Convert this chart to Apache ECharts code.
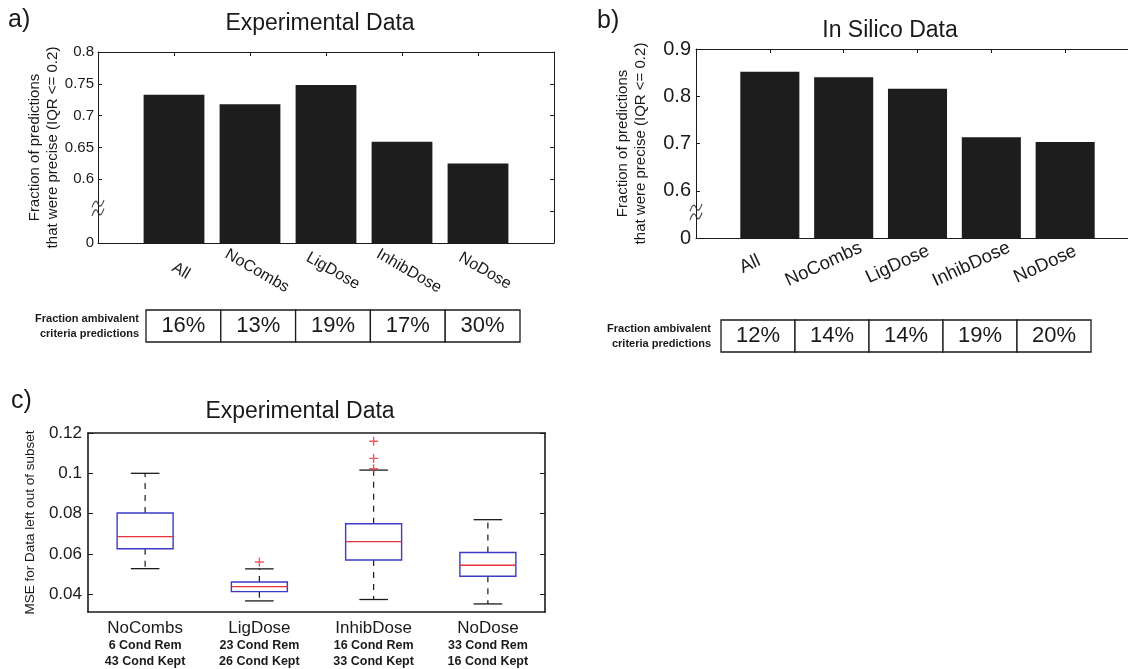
<!DOCTYPE html>
<html>
<head>
<meta charset="utf-8">
<script src="https://cdn.jsdelivr.net/npm/echarts@6/dist/echarts.min.js"></script>
<style>
  html, body { margin: 0; padding: 0; background: #ffffff; }
  #chart { width: 1128px; height: 669px; }
</style>
</head>
<body>
<div id="chart"></div>
<script>
// ---- Subsets compared in panels a and b ----
const subsets = ['All', 'NoCombs', 'LigDose', 'InhibDose', 'NoDose'];

// a) Experimental data: fraction of precise predictions and ambivalent fraction (%)
const expPrecise = [0.733, 0.718, 0.748, 0.659, 0.625];
const expAmbivalent = [16, 13, 19, 17, 30];
const expTickValues = [0.5, 0.6, 0.65, 0.7, 0.75, 0.8];
const expTickLabels = ['0', '0.6', '0.65', '0.7', '0.75', '0.8'];
const expRightTicks = [0.55, 0.6, 0.65, 0.7, 0.75];

// b) In silico data
const silPrecise = [0.852, 0.840, 0.816, 0.713, 0.703];
const silAmbivalent = [12, 14, 14, 19, 20];
const silTickValues = [0.5, 0.6, 0.7, 0.8, 0.9];
const silTickLabels = ['0', '0.6', '0.7', '0.8', '0.9'];
const silRightTicks = [0.6, 0.7, 0.8];

// Value where the broken y axis is marked
const axisBreakAt = 0.555;
const rowLabel = 'Fraction ambivalent\ncriteria predictions';

// c) MSE for data left out of each subset (box plot statistics)
const boxCategories = ['NoCombs', 'LigDose', 'InhibDose', 'NoDose'];
const condRemoved = [6, 23, 16, 33];
const condKept = [43, 26, 33, 16];
const boxLow = [0.0527, 0.0367, 0.0374, 0.0352];
const boxQ1 = [0.0626, 0.0413, 0.0570, 0.0489];
const boxMedian = [0.0686, 0.0438, 0.0661, 0.0544];
const boxQ3 = [0.0803, 0.0461, 0.0750, 0.0607];
const boxHigh = [0.1000, 0.0526, 0.1016, 0.0770];
const outlierCategory = [1, 2, 2, 2];
const outlierValue = [0.0560, 0.1159, 0.1074, 0.1023];
const mseTicks = [0.04, 0.06, 0.08, 0.1, 0.12];

// ---- Styling ----
const FONT = "'Liberation Sans', Arial, Helvetica, sans-serif";
const INK = '#1a1a1a';
const BAR = '#1d1d1d';
const BOX_BLUE = '#3b3bc8';
const MEDIAN_RED = '#e8323a';
const breakSymbol = 'path://M0,7 C2,1 4,1 5,4 C6,7 8,7 10,1 M0,14 C2,8 4,8 5,11 C6,14 8,14 10,8';
const plusSymbol = 'path://M5,0 L5,10 M0,5 L10,5';

const padCats = c => [''].concat(c, ['']);
const tickFormatter = (values, labels) => v => {
  const k = values.findIndex(t => Math.abs(t - v) < 1e-9);
  return k < 0 ? '' : labels[k];
};

const chart = echarts.init(document.getElementById('chart'), null, { renderer: 'canvas' });

function edgeLine(width) {
  return { show: true, onZero: false, lineStyle: { color: INK, width: width } };
}

// Category axes for a bar panel: bottom (labelled) and top (ticks only)
function barXAxes(grid, labelCfg) {
  return [
    {
      gridIndex: grid, type: 'category', data: padCats(subsets), boundaryGap: false,
      position: 'bottom', axisLine: edgeLine(1), axisTick: { show: false },
      axisLabel: Object.assign({ interval: 0, fontFamily: FONT, color: INK }, labelCfg)
    },
    {
      gridIndex: grid, type: 'category', data: padCats(subsets), boundaryGap: false,
      position: 'top', axisLine: edgeLine(1),
      axisTick: { show: true, inside: true, length: 4, interval: 0, lineStyle: { color: INK } },
      axisLabel: { show: false }
    }
  ];
}

function barYAxes(grid, min, max, tickValues, tickLabels, rightTicks, labelSize, labelMargin, nameGap) {
  return [
    {
      gridIndex: grid, type: 'value', min: min, max: max, position: 'left',
      name: 'Fraction of predictions\nthat were precise (IQR <= 0.2)',
      nameLocation: 'middle', nameGap: nameGap, nameMoveOverlap: false,
      nameTextStyle: { fontSize: 15, lineHeight: 18, fontFamily: FONT, color: INK },
      axisLine: edgeLine(1),
      axisTick: { show: true, inside: true, length: 4, customValues: tickValues, lineStyle: { color: INK } },
      axisLabel: {
        customValues: tickValues, formatter: tickFormatter(tickValues, tickLabels),
        fontSize: labelSize, fontFamily: FONT, color: INK, margin: labelMargin
      },
      splitLine: { show: false }
    },
    {
      gridIndex: grid, type: 'value', min: min, max: max, position: 'right',
      axisLine: edgeLine(1),
      axisTick: { show: true, inside: true, length: 4, customValues: rightTicks, lineStyle: { color: INK } },
      axisLabel: { show: false },
      splitLine: { show: false }
    }
  ];
}

function tableAxes(grid, labelMargin) {
  return {
    x: { gridIndex: grid, type: 'category', data: subsets, show: false },
    y: {
      gridIndex: grid, type: 'category', data: [rowLabel],
      axisLine: { show: false }, axisTick: { show: false },
      axisLabel: {
        interval: 0, align: 'right', margin: labelMargin, fontSize: 11, fontWeight: 'bold',
        lineHeight: 15, fontFamily: FONT, color: INK
      }
    }
  };
}

// One row of bordered cells, one cell per subset
function tableSeries(xIdx, yIdx, values) {
  return {
    type: 'custom', xAxisIndex: xIdx, yAxisIndex: yIdx, silent: true,
    data: values.map((v, i) => [i, 0, v]),
    renderItem: (params, api) => {
      const c = api.coord([api.value(0), 0]);
      const s = api.size([1, 1]);
      return {
        type: 'group',
        children: [
          {
            type: 'rect',
            shape: { x: c[0] - s[0] / 2, y: c[1] - s[1] / 2, width: s[0], height: s[1] },
            style: { fill: '#ffffff', stroke: INK, lineWidth: 1.3 }
          },
          {
            type: 'text', x: c[0], y: c[1],
            style: {
              text: api.value(2) + '%', align: 'center', verticalAlign: 'middle',
              fontSize: 22, fontFamily: FONT, fill: INK
            }
          }
        ]
      };
    }
  };
}

function breakMarker(xIdx, yIdx) {
  return {
    type: 'scatter', xAxisIndex: xIdx, yAxisIndex: yIdx, silent: true, clip: false, z: 10,
    data: [[0, axisBreakAt]], symbol: breakSymbol, symbolSize: [12, 16],
    itemStyle: { color: 'none', borderColor: INK, borderWidth: 1.2 }
  };
}

const aX = barXAxes(0, { rotate: -30, align: 'center', verticalAlign: 'middle', padding: [0, 0, 0, 16], margin: 24, fontSize: 16 });
const bX = barXAxes(2, { rotate: 25, align: 'center', verticalAlign: 'middle', padding: [0, 44, 0, 0], margin: 17, fontSize: 18.5 });
const aY = barYAxes(0, 0.5, 0.8, expTickValues, expTickLabels, expRightTicks, 15, 4, 36);
const bY = barYAxes(2, 0.5, 0.9, silTickValues, silTickLabels, silRightTicks, 20, 5, 46);
const aT = tableAxes(1, 7);
const bT = tableAxes(3, 10);

const cX = [
  {
    gridIndex: 4, type: 'category', data: boxCategories, position: 'bottom',
    axisLine: edgeLine(1.6), axisTick: { show: false },
    axisLabel: {
      interval: 0, margin: 7, color: INK, fontFamily: FONT,
      formatter: (v, i) => '{n|' + v + '}\n{s|' + condRemoved[i] + ' Cond Rem}\n{s|' + condKept[i] + ' Cond Kept}',
      rich: {
        n: { fontSize: 17, lineHeight: 19, fontFamily: FONT, color: INK },
        s: { fontSize: 12.5, lineHeight: 16, fontWeight: 'bold', fontFamily: FONT, color: INK }
      }
    }
  },
  {
    gridIndex: 4, type: 'category', data: boxCategories, position: 'top',
    axisLine: edgeLine(1.6), axisTick: { show: false }, axisLabel: { show: false }
  }
];
const cY = [
  {
    gridIndex: 4, type: 'value', min: 0.0312, max: 0.12, position: 'left',
    name: 'MSE for Data left out of subset', nameLocation: 'middle', nameGap: 51, nameMoveOverlap: false,
    nameTextStyle: { fontSize: 13.5, fontFamily: FONT, color: INK },
    axisLine: edgeLine(1.6),
    axisTick: { show: true, inside: true, length: 5, customValues: mseTicks, lineStyle: { color: INK } },
    axisLabel: { customValues: mseTicks, fontSize: 17, fontFamily: FONT, color: INK, margin: 6 },
    splitLine: { show: false }
  },
  {
    gridIndex: 4, type: 'value', min: 0.0312, max: 0.12, position: 'right',
    axisLine: edgeLine(1.6),
    axisTick: { show: true, inside: true, length: 5, customValues: mseTicks, lineStyle: { color: INK } },
    axisLabel: { show: false }, splitLine: { show: false }
  }
];

// Box-and-whisker glyph: dashed whiskers, caps, blue box, red median
const boxSeries = {
  type: 'custom', xAxisIndex: 6, yAxisIndex: 6, silent: true,
  data: boxCategories.map((_, i) => [i, boxLow[i], boxQ1[i], boxMedian[i], boxQ3[i], boxHigh[i]]),
  encode: { x: 0, y: [1, 2, 3, 4, 5] },
  renderItem: (params, api) => {
    const i = api.value(0);
    const x = api.coord([i, api.value(3)])[0];
    const band = api.size([1, 0])[0];
    const half = band * 0.245;
    const cap = band * 0.125;
    const y = k => api.coord([i, api.value(k)])[1];
    const yLow = y(1), yQ1 = y(2), yMed = y(3), yQ3 = y(4), yHigh = y(5);
    const whisker = { stroke: INK, lineWidth: 1.2, lineDash: [6, 6] };
    const solid = { stroke: INK, lineWidth: 1.3 };
    return {
      type: 'group',
      children: [
        { type: 'line', shape: { x1: x, y1: yQ3, x2: x, y2: yHigh }, style: whisker },
        { type: 'line', shape: { x1: x, y1: yQ1, x2: x, y2: yLow }, style: whisker },
        { type: 'line', shape: { x1: x - cap, y1: yHigh, x2: x + cap, y2: yHigh }, style: solid },
        { type: 'line', shape: { x1: x - cap, y1: yLow, x2: x + cap, y2: yLow }, style: solid },
        {
          type: 'rect', shape: { x: x - half, y: yQ3, width: half * 2, height: yQ1 - yQ3 },
          style: { fill: 'none', stroke: BOX_BLUE, lineWidth: 1.4 }
        },
        { type: 'line', shape: { x1: x - half, y1: yMed, x2: x + half, y2: yMed }, style: { stroke: MEDIAN_RED, lineWidth: 1.4 } }
      ]
    };
  }
};

const outlierSeries = {
  type: 'scatter', xAxisIndex: 6, yAxisIndex: 6, silent: true, z: 5,
  data: outlierValue.map((v, k) => [outlierCategory[k], v]),
  symbol: plusSymbol, symbolSize: 9,
  itemStyle: { color: 'none', borderColor: MEDIAN_RED, borderWidth: 1.4 }
};

const titleStyle = { fontSize: 23, fontWeight: 'normal', fontFamily: FONT, color: INK };
const tagStyle = { fontSize: 25, fontWeight: 'normal', fontFamily: FONT, color: INK };

const option = {
  backgroundColor: '#ffffff',
  animation: false,
  title: [
    { text: 'a)', left: 8, top: 8, padding: 0, textStyle: tagStyle },
    { text: 'Experimental Data', left: 320, top: 12, padding: 0, textAlign: 'center', textStyle: titleStyle },
    { text: 'b)', left: 597, top: 9, padding: 0, textStyle: tagStyle },
    { text: 'In Silico Data', left: 890, top: 19, padding: 0, textAlign: 'center', textStyle: titleStyle },
    { text: 'c)', left: 11, top: 389, padding: 0, textStyle: tagStyle },
    { text: 'Experimental Data', left: 300, top: 400, padding: 0, textAlign: 'center', textStyle: titleStyle }
  ],
  grid: [
    { left: 98, right: 574, top: 52, bottom: 426, outerBoundsMode: 'none', containLabel: false },
    { left: 146, right: 608, top: 310, bottom: 327, outerBoundsMode: 'none', containLabel: false },
    { left: 696, right: -11, top: 49, bottom: 431, outerBoundsMode: 'none', containLabel: false },
    { left: 721, right: 37, top: 320, bottom: 317, outerBoundsMode: 'none', containLabel: false },
    { left: 88, right: 583, top: 433, bottom: 57, outerBoundsMode: 'none', containLabel: false }
  ],
  xAxis: [aX[0], aX[1], aT.x, bX[0], bX[1], bT.x, cX[0], cX[1]],
  yAxis: [aY[0], aY[1], aT.y, bY[0], bY[1], bT.y, cY[0], cY[1]],
  series: [
    {
      type: 'bar', xAxisIndex: 0, yAxisIndex: 0, silent: true, barWidth: '80%',
      data: expPrecise.map((v, i) => [i + 1, v]),
      itemStyle: { color: BAR }
    },
    breakMarker(0, 0),
    tableSeries(2, 2, expAmbivalent),
    {
      type: 'bar', xAxisIndex: 3, yAxisIndex: 3, silent: true, barWidth: '80%',
      data: silPrecise.map((v, i) => [i + 1, v]),
      itemStyle: { color: BAR }
    },
    breakMarker(3, 3),
    tableSeries(5, 5, silAmbivalent),
    boxSeries,
    outlierSeries
  ]
};

chart.setOption(option);
</script>
</body>
</html>
